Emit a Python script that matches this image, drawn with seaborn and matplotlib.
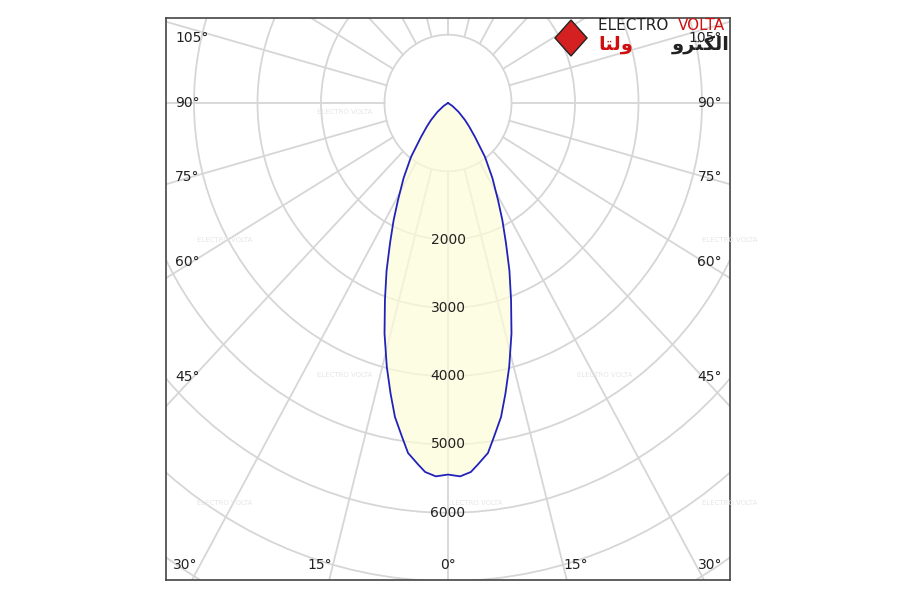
import numpy as np
import pandas as pd
import matplotlib
matplotlib.use("Agg")
import matplotlib.pyplot as plt
import seaborn as sns
from matplotlib.patches import Circle, Polygon

sns.set_style("white")
plt.rcParams['font.family'] = ['DejaVu Sans']

# half-curve (symmetric), angle in degrees from nadir, intensity cd
angles = [0, 2, 3.8, 5, 7, 8.5, 10.3, 12, 14, 16.5, 19, 21.5, 24, 26.5, 29, 32.5, 36.4, 40.5, 44, 47, 52, 58, 65]
intens = [5440, 5470, 5415, 5320, 5163, 4930, 4672, 4350, 3983, 3520, 3050, 2640, 2244, 1920, 1624, 1300, 982, 655, 480, 366, 210, 80, 0]
ring_values = [2000, 3000, 4000, 5000, 6000]
angle_labels = ["0°", "15°", "30°", "45°", "60°", "75°", "90°", "105°"]

fig = plt.figure(figsize=(9, 6), dpi=100)
ax = fig.add_axes([166/900, 20/600, 564/900, 562/600])
XH = 282/63.5*1000
YT, YB = 85/68.3*1000, 477/68.3*1000
ax.set_xlim(-XH, XH)
ax.set_ylim(-YB, YT)
ax.set_aspect('auto')
ax.set_xticks([]); ax.set_yticks([])
for s in ax.spines.values():
    s.set_color('#444'); s.set_linewidth(1.2)

gc = '#d6d6d6'
inner = 1000
for r in range(1000, 12001, 1000):
    ax.add_patch(Circle((0, 0), r, fill=False, ec=gc, lw=1.3, zorder=1))
for a in range(0, 360, 15):
    t = np.radians(a)
    ax.plot([inner*np.sin(t), 12000*np.sin(t)], [-inner*np.cos(t), -12000*np.cos(t)], color=gc, lw=1.3, zorder=1)

th = np.array([-a for a in angles[::-1]] + angles[1:], dtype=float)
rr = np.array(intens[::-1] + intens[1:], dtype=float)
df = pd.DataFrame({"x": rr*np.sin(np.radians(th)), "y": -rr*np.cos(np.radians(th))})
ax.add_patch(Polygon(df[["x", "y"]].values, closed=True, fc='#fdfdd8', ec='none', alpha=0.7, zorder=2))
sns.lineplot(data=df, x="x", y="y", sort=False, estimator=None, color='#2222bb', lw=1.3, ax=ax, zorder=3)
ax.set_xlabel(''); ax.set_ylabel('')

for v in ring_values:
    ax.text(0, -v, str(v), ha='center', va='center', fontsize=10, color='#222', zorder=4)

# watermarks
for (px, py) in [(345, 112), (225, 240), (345, 375), (225, 503), (475, 503), (605, 375), (730, 240), (730, 503)]:
    fig.text(px/900, 1-py/600, "ELECTRO VOLTA", color='#e6e6e6', fontsize=5, ha='center', va='center')

fs = 10
for i, lab in enumerate(angle_labels):
    a = 15*i
    if a >= 45:
        y = {45: 377, 60: 262, 75: 177, 90: 103, 105: 38}[a]
        fig.text(175/900, 1-y/600, lab, ha='left', va='center', fontsize=fs, color='#222')
        fig.text(722/900, 1-y/600, lab, ha='right', va='center', fontsize=fs, color='#222')
for a, xs in [(0, [448]), (15, [320, 576]), (30, [185, 710])]:
    for x in xs:
        fig.text(x/900, 1-565/600, f"{a}°", ha='center', va='center', fontsize=fs, color='#222')

# logo
fig.text(598/900, 1-25/600, "ELECTRO ", color='#222', fontsize=11, ha='left', va='center')
fig.text(678/900, 1-25/600, "VOLTA", color='#d01010', fontsize=11, ha='left', va='center')
fig.text(598/900, 1-44/600, "\uFE8E\uFE98\uFEDF\uFEED", color='#d01010', fontsize=14, ha='left', va='center', fontweight='bold')
fig.text(730/900, 1-44/600, "\uFEED\uFEAE\uFE98\uFEDC\uFEDF\uFE8D", color='#222', fontsize=14, ha='right', va='center', fontweight='bold')
fig.patches.append(Polygon([[571/900, 1-20/600], [587/900, 1-38/600], [571/900, 1-56/600], [555/900, 1-38/600]],
                           closed=True, fc='#d42020', ec='#222', lw=1, transform=fig.transFigure, figure=fig))

fig.savefig("out.png", dpi=100)
